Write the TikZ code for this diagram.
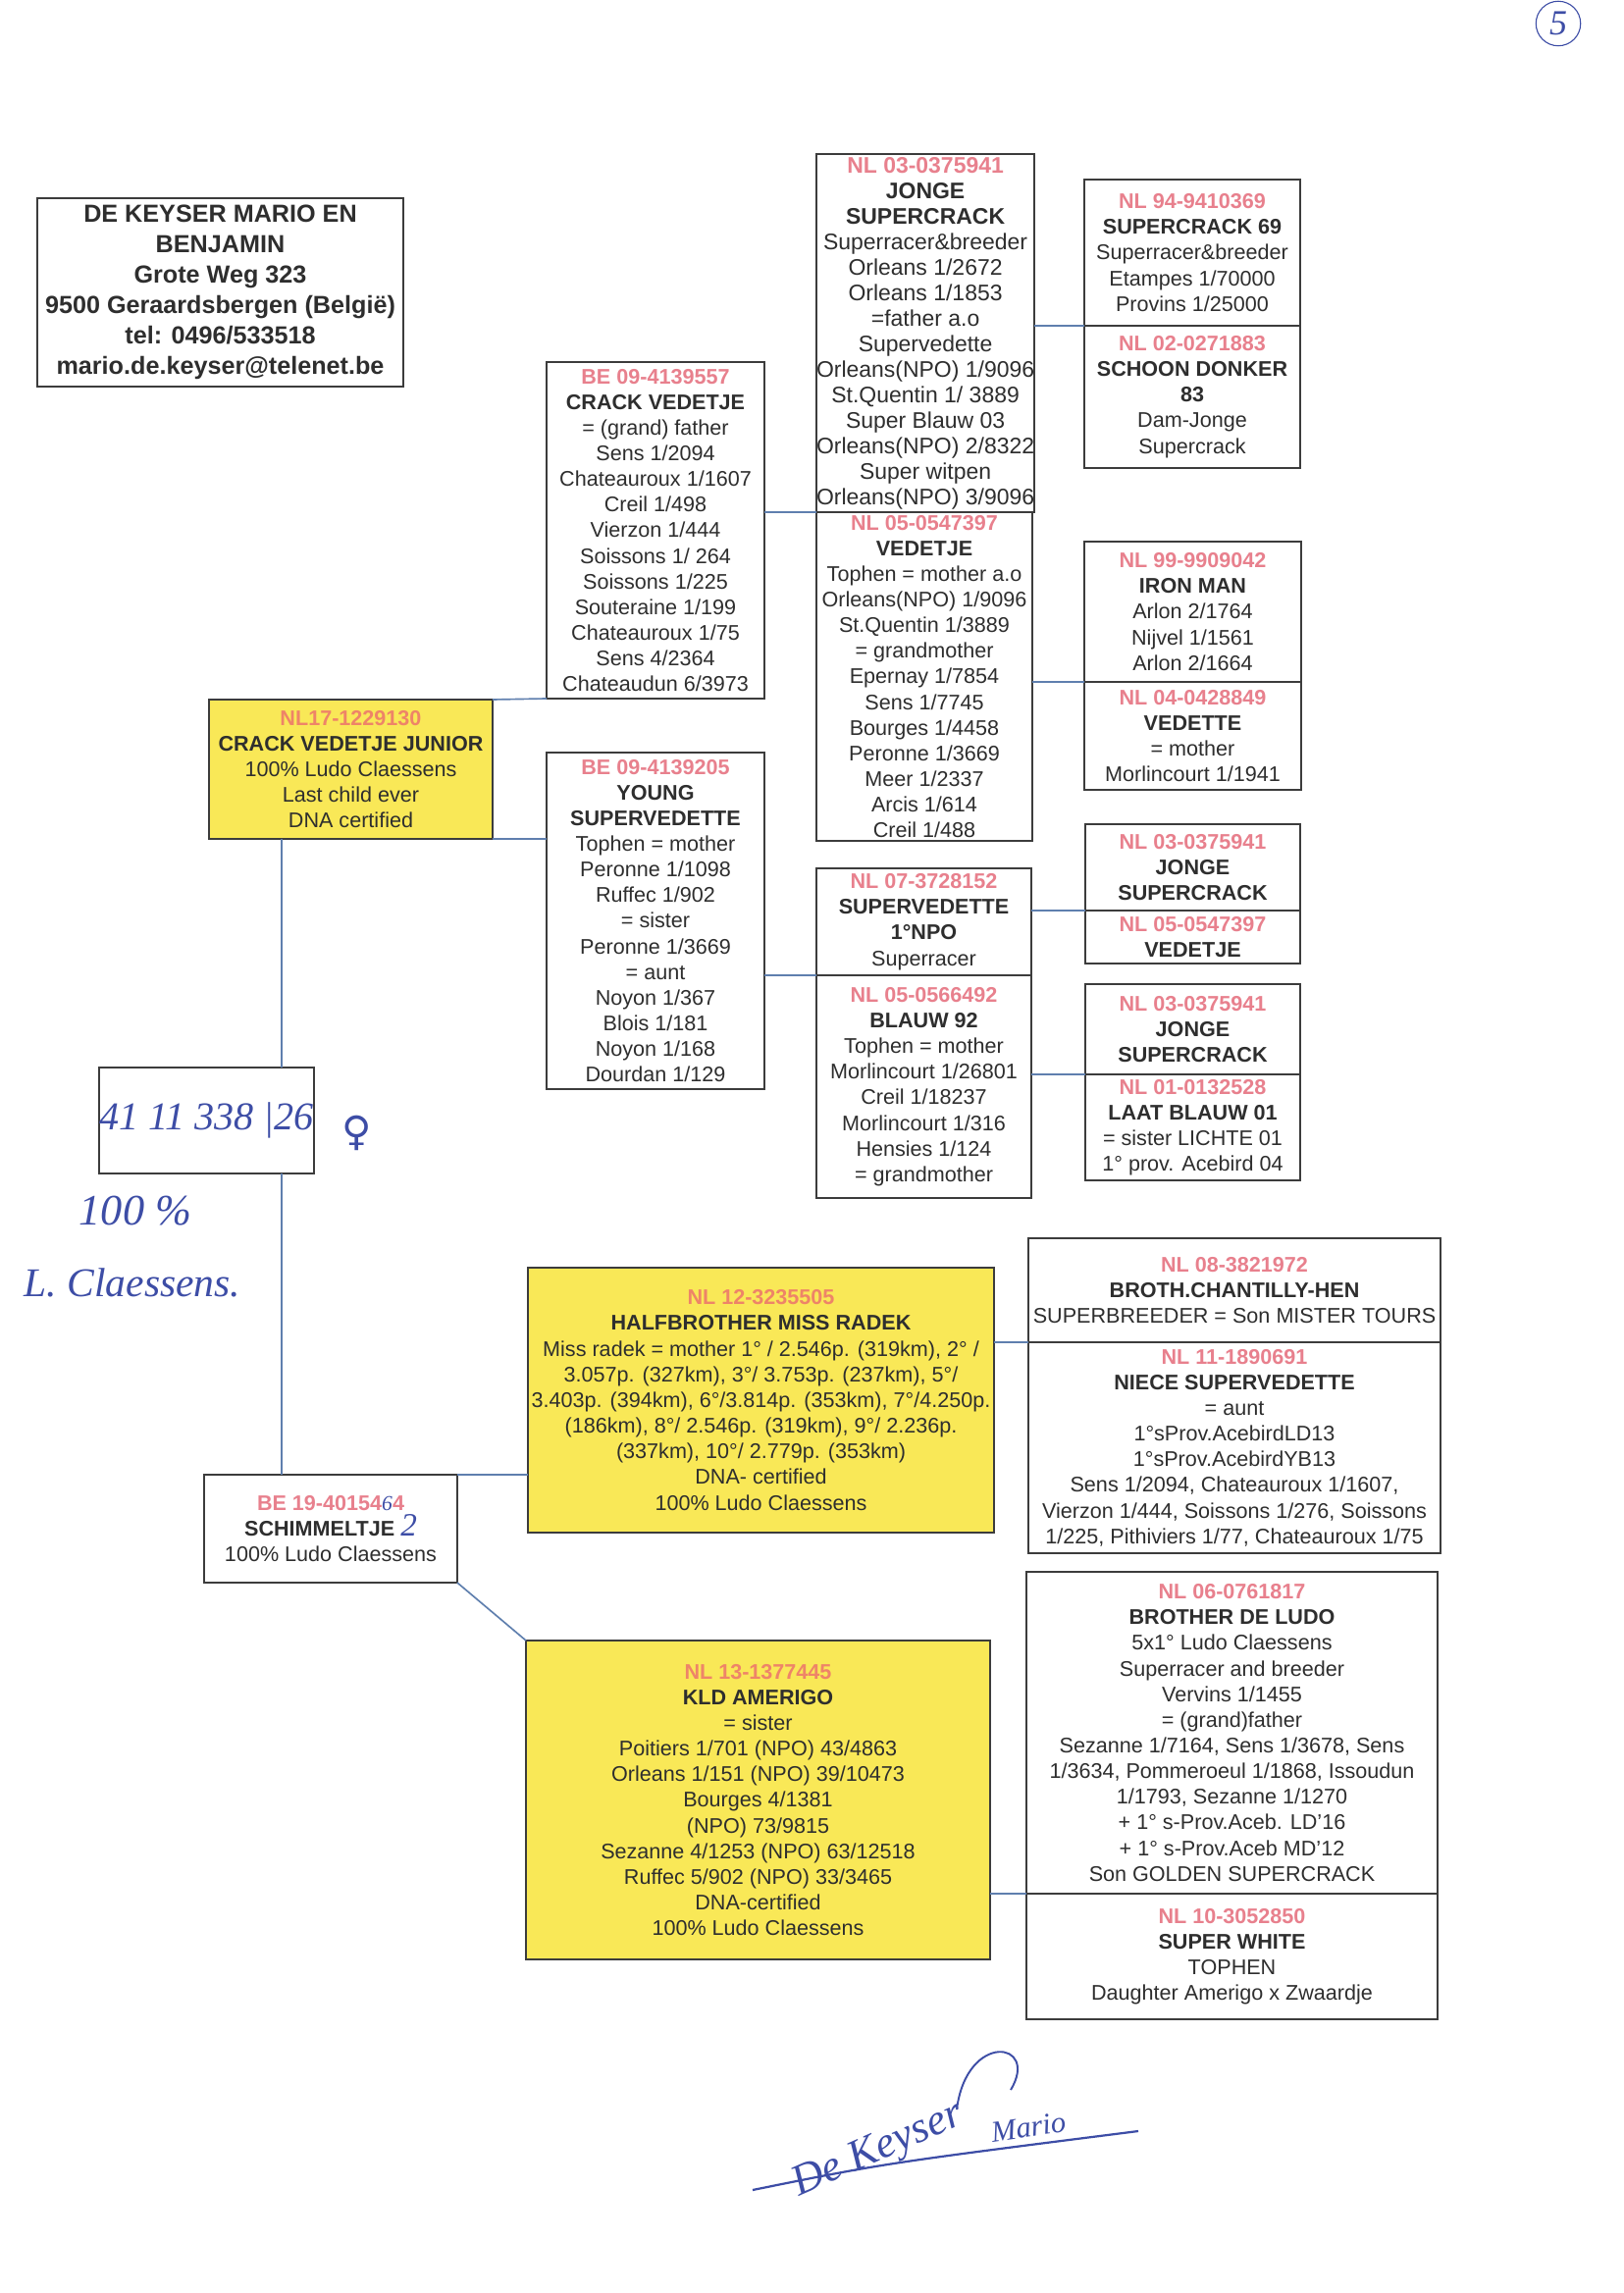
\documentclass[tikz,border=0pt]{standalone}
\usepackage{fontspec}
\setmainfont{Liberation Sans}
\newfontfamily\handfont{Liberation Serif}
\newfontfamily\symbolfont{DejaVu Sans}
\usetikzlibrary{positioning,calc}
\definecolor{BoxLine}{HTML}{3C3C3C}
\definecolor{LinkBlue}{HTML}{5F7FAE}
\definecolor{IdPink}{HTML}{E8808D}
\definecolor{IdSalmon}{HTML}{EE8468}
\definecolor{Pedigree}{HTML}{F9E857}
\definecolor{Ink}{HTML}{3D4DA6}
\definecolor{DarkText}{HTML}{2E2E2E}
\newcommand\birdid[1]{\textcolor{IdPink}{\bfseries #1}}
\newcommand\yellowid[1]{\textcolor{IdSalmon}{\bfseries #1}}
\tikzset{
  cell/.style={draw=BoxLine, line width=0.75pt, anchor=north west, outer sep=0pt, inner sep=0pt, align=center, text=DarkText, font=\fontsize{7.8}{9.45}\selectfont},
  yellowcell/.style={cell, fill=Pedigree},
  boxdim/.style 2 args={minimum width=#1*0.127mm, minimum height=#2*0.127mm},
  link/.style={draw=LinkBlue, line width=0.6pt},
  ink/.style={text=Ink, font=\handfont\itshape\fontsize{16}{18}\selectfont}
}

\begin{document}
\begin{tikzpicture}[x=0.127mm,y=-0.127mm]
\path[use as bounding box, fill=white] (0,0) rectangle (1654,2337);

% owner
\node[cell, boxdim={373}{192}, font=\fontsize{9.1}{11.2}\selectfont\bfseries] (addr) at (38,202) {DE KEYSER MARIO EN\\BENJAMIN\\Grote Weg 323\\9500 Geraardsbergen (België)\\tel: 0496/533518\\mario.de.keyser@telenet.be};

% father side
\node[yellowcell, boxdim={289}{142}] (junior) at (213,713) {\yellowid{NL17-1229130}\\\textbf{CRACK VEDETJE JUNIOR}\\100\% Ludo Claessens\\Last child ever\\DNA certified};
\node[cell, boxdim={222}{343}] (crackv) at (557,369) {\birdid{BE 09-4139557}\\\textbf{CRACK VEDETJE}\\= (grand) father\\Sens 1/2094\\Chateauroux 1/1607\\Creil 1/498\\Vierzon 1/444\\Soissons 1/ 264\\Soissons 1/225\\Souteraine 1/199\\Chateauroux 1/75\\Sens 4/2364\\Chateaudun 6/3973};
\node[cell, boxdim={222}{343}] (young) at (557,767) {\birdid{BE 09-4139205}\\\textbf{YOUNG}\\\textbf{SUPERVEDETTE}\\Tophen = mother\\Peronne 1/1098\\Ruffec 1/902\\= sister\\Peronne 1/3669\\= aunt\\Noyon 1/367\\Blois 1/181\\Noyon 1/168\\Dourdan 1/129};
\node[cell, boxdim={220}{365}, font=\fontsize{8.3}{9.4}\selectfont] (jonge) at (832,157) {\birdid{NL 03-0375941}\\\textbf{JONGE}\\\textbf{SUPERCRACK}\\Superracer\&breeder\\Orleans 1/2672\\Orleans 1/1853\\=father a.o\\Supervedette\\Orleans(NPO) 1/9096\\St.Quentin 1/ 3889\\Super Blauw 03\\Orleans(NPO) 2/8322\\Super witpen\\Orleans(NPO) 3/9096};
\node[cell, boxdim={220}{335}] (vedetje) at (832,522) {\birdid{NL 05-0547397}\\\textbf{VEDETJE}\\Tophen = mother a.o\\Orleans(NPO) 1/9096\\St.Quentin 1/3889\\= grandmother\\Epernay 1/7854\\Sens 1/7745\\Bourges 1/4458\\Peronne 1/3669\\Meer 1/2337\\Arcis 1/614\\Creil 1/488};
\node[cell, boxdim={219}{109}] (supved) at (832,885) {\birdid{NL 07-3728152}\\\textbf{SUPERVEDETTE}\\\textbf{1°NPO}\\Superracer};
\node[cell, boxdim={219}{227}] (blauw) at (832,994) {\birdid{NL 05-0566492}\\\textbf{BLAUW 92}\\Tophen = mother\\Morlincourt 1/26801\\Creil 1/18237\\Morlincourt 1/316\\Hensies 1/124\\= grandmother};
\node[cell, boxdim={220}{149}] (sc69) at (1105,183) {\birdid{NL 94-9410369}\\\textbf{SUPERCRACK 69}\\Superracer\&breeder\\Etampes 1/70000\\Provins 1/25000};
\node[cell, boxdim={220}{145}] (schoon) at (1105,332) {\birdid{NL 02-0271883}\\\textbf{SCHOON DONKER}\\\textbf{83}\\Dam-Jonge\\Supercrack};
\node[cell, boxdim={221}{143}] (ironman) at (1105,552) {\birdid{NL 99-9909042}\\\textbf{IRON MAN}\\Arlon 2/1764\\Nijvel 1/1561\\Arlon 2/1664};
\node[cell, boxdim={221}{110}] (vedette) at (1105,695) {\birdid{NL 04-0428849}\\\textbf{VEDETTE}\\= mother\\Morlincourt 1/1941};
\node[cell, boxdim={219}{88}] (jongeb) at (1106,840) {\birdid{NL 03-0375941}\\\textbf{JONGE}\\\textbf{SUPERCRACK}};
\node[cell, boxdim={219}{54}] (vedetjeb) at (1106,928) {\birdid{NL 05-0547397}\\\textbf{VEDETJE}};
\node[cell, boxdim={219}{92}] (jongec) at (1106,1003) {\birdid{NL 03-0375941}\\\textbf{JONGE}\\\textbf{SUPERCRACK}};
\node[cell, boxdim={219}{108}] (laat) at (1106,1095) {\birdid{NL 01-0132528}\\\textbf{LAAT BLAUW 01}\\= sister LICHTE 01\\1° prov. Acebird 04};

% ring number and mother side
\node[cell, boxdim={219}{108}, text=Ink, font=\handfont\itshape\fontsize{14.5}{16}\selectfont] (tag) at (101,1088) {41 11 338 |26};
\node[cell, boxdim={258}{110}] (schimmel) at (208,1503) {\birdid{BE 19-40154}{\color{Ink}\handfont\itshape 6}\birdid{4}\\\textbf{SCHIMMELTJE}~{\color{Ink}\handfont\itshape\large 2}\\100\% Ludo Claessens};
\node[yellowcell, boxdim={475}{270}] (halfbro) at (538,1292) {\yellowid{NL 12-3235505}\\\textbf{HALFBROTHER MISS RADEK}\\Miss radek = mother 1° / 2.546p. (319km), 2° /\\3.057p. (327km), 3°/ 3.753p. (237km), 5°/\\3.403p. (394km), 6°/3.814p. (353km), 7°/4.250p.\\(186km), 8°/ 2.546p. (319km), 9°/ 2.236p.\\(337km), 10°/ 2.779p. (353km)\\DNA- certified\\100\% Ludo Claessens};
\node[cell, boxdim={420}{106}] (broth) at (1048,1262) {\birdid{NL 08-3821972}\\\textbf{BROTH.CHANTILLY-HEN}\\SUPERBREEDER = Son MISTER TOURS};
\node[cell, boxdim={420}{215}] (niece) at (1048,1368) {\birdid{NL 11-1890691}\\\textbf{NIECE SUPERVEDETTE}\\= aunt\\1°sProv.AcebirdLD13\\1°sProv.AcebirdYB13\\Sens 1/2094, Chateauroux 1/1607,\\Vierzon 1/444, Soissons 1/276, Soissons\\1/225, Pithiviers 1/77, Chateauroux 1/75};
\node[yellowcell, boxdim={473}{325}] (amerigo) at (536,1672) {\yellowid{NL 13-1377445}\\\textbf{KLD AMERIGO}\\= sister\\Poitiers 1/701 (NPO) 43/4863\\Orleans 1/151 (NPO) 39/10473\\Bourges 4/1381\\(NPO) 73/9815\\Sezanne 4/1253 (NPO) 63/12518\\Ruffec 5/902 (NPO) 33/3465\\DNA-certified\\100\% Ludo Claessens};
\node[cell, boxdim={419}{328}] (ludo) at (1046,1602) {\birdid{NL 06-0761817}\\\textbf{BROTHER DE LUDO}\\5x1° Ludo Claessens\\Superracer and breeder\\Vervins 1/1455\\= (grand)father\\Sezanne 1/7164, Sens 1/3678, Sens\\1/3634, Pommeroeul 1/1868, Issoudun\\1/1793, Sezanne 1/1270\\+ 1° s-Prov.Aceb. LD'16\\+ 1° s-Prov.Aceb MD'12\\Son GOLDEN SUPERCRACK};
\node[cell, boxdim={419}{128}] (white) at (1046,1930) {\birdid{NL 10-3052850}\\\textbf{SUPER WHITE}\\TOPHEN\\Daughter Amerigo x Zwaardje};

% lines
\coordinate (trunk) at (287,0);
\draw[link] (junior.north east) -- (crackv.south west);
\draw[link] (junior.south east) -- (junior.south east -| young.west);
\draw[link] (jonge.south west) -- (jonge.south west -| crackv.east);
\draw[link] (supved.south west) -- (supved.south west -| young.east);
\draw[link] (sc69.south west) -- (sc69.south west -| jonge.east);
\draw[link] (ironman.south west) -- (ironman.south west -| vedetje.east);
\draw[link] (jongeb.south west) -- (jongeb.south west -| supved.east);
\draw[link] (jongec.south west) -- (jongec.south west -| blauw.east);
\draw[link] (junior.south -| trunk) -- (tag.north -| trunk);
\draw[link] (tag.south -| trunk) -- (schimmel.north -| trunk);
\draw[link] (schimmel.north east) -- (schimmel.north east -| halfbro.west);
\draw[link] (broth.south west) -- (broth.south west -| halfbro.east);
\draw[link] (schimmel.south east) -- (amerigo.north west);
\draw[link] (ludo.south west) -- (ludo.south west -| amerigo.east);

% handwriting
\node[ink, font=\symbolfont\fontsize{15}{17}\selectfont] (female) at (364,1155) {♀};
\node[ink] (pct) at (138,1234) {100 \%};
\node[ink, font=\handfont\itshape\fontsize{15}{17}\selectfont] (breeder) at (135,1307) {L. Claessens.};
\node[ink, draw=Ink, circle, inner sep=2pt, font=\handfont\itshape\fontsize{13}{15}\selectfont] (pagenum) at (1588,24) {5};
\coordinate (signA) at (767,2232);
\coordinate (signB) at (1160,2172);
\draw[Ink, line width=0.8pt] (signA) .. controls (900,2205) .. (signB);
\draw[Ink, line width=0.7pt] (975,2150) .. controls (985,2070) and (1060,2080) .. (1030,2130);
\node[ink, rotate=24, font=\handfont\itshape\fontsize{16}{18}\selectfont] (signname) at (895,2192) {De Keyser};
\node[ink, rotate=8, font=\handfont\itshape\fontsize{11}{13}\selectfont] (signfirst) at (1048,2168) {Mario};
\end{tikzpicture}
\end{document}
